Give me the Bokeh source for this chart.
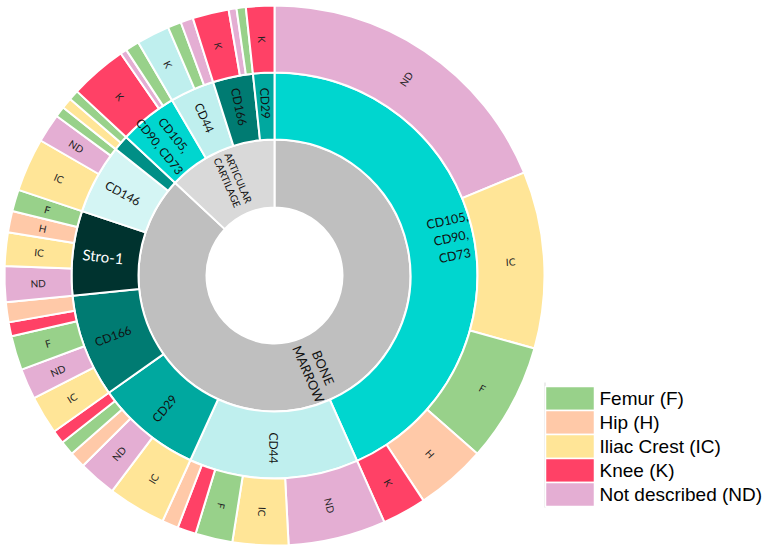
import math
import numpy as np
from bokeh.plotting import figure
from bokeh.models import Range1d
from bokeh.core.properties import value
from bokeh.embed import file_html
from bokeh.resources import INLINE

# ---------------- data (clockwise from 12 o'clock) ----------------
tissue_names = ["BONE MARROW", "ARTICULAR CARTILAGE"]
tissue_labels = ["BONE\nMARROW", "ARTICULAR\nCARTILAGE"]

marker_tissue = [0, 0, 0, 0, 0, 0, 0, 1, 1, 1, 1]
marker_names = ["CD105, CD90, CD73", "CD44", "CD29", "CD166", "Stro-1", "CD146", "",
                "CD105, CD90, CD73", "CD44", "CD166", "CD29"]
marker_labels = ["CD105,\nCD90,\nCD73", "CD44", "CD29", "CD166", "Stro-1", "CD146", "",
                 "CD105,\nCD90, CD73", "CD44", "CD166", "CD29"]

site_marker = [0, 0, 0, 0, 0,
               1, 1, 1, 1, 1,
               2, 2, 2, 2, 2,
               3, 3, 3, 3, 3,
               4, 4, 4, 4,
               5, 5, 5,
               6, 6,
               7, 7, 7,
               8, 8, 8,
               9, 9, 9,
               10]
site_code = ["ND", "IC", "F", "H", "K",
             "ND", "IC", "F", "K", "H",
             "IC", "ND", "H", "F", "K",
             "IC", "ND", "F", "K", "H",
             "ND", "IC", "H", "F",
             "IC", "ND", "F",
             "IC", "F",
             "K", "ND", "F",
             "K", "F", "ND",
             "K", "ND", "F",
             "K"]
# share of the full circle (degrees)
site_share = [67.6, 38.1, 25.6, 15.2, 9.5,
              21.0, 12.0, 8.0, 4.0, 3.5,
              12.5, 8.2, 3.5, 3.1, 2.9,
              8.3, 6.6, 7.4, 3.0, 4.3,
              7.7, 7.2, 4.6, 4.7,
              11.5, 6.2, 2.3,
              2.3, 2.2,
              12.3, 1.4, 3.0,
              7.1, 2.9, 2.7,
              7.8, 1.7, 2.0,
              6.1]

legend_codes = ["F", "H", "IC", "K", "ND"]
legend_names = ["Femur (F)", "Hip (H)", "Iliac Crest (IC)", "Knee (K)", "Not described (ND)"]

# ---------------- styles ----------------
site_colors = {"F": "#98D18A", "H": "#FFC9A8", "IC": "#FFE597", "K": "#FF4166", "ND": "#E4AED3"}
odd_site_color = {32: "#BFEFEE"}  # the knee slice drawn in light cyan in the original
marker_colors = {"CD105, CD90, CD73": "#00D6CF", "CD44": "#BFEFEE", "CD29": "#00A89F",
                 "CD166": "#007B72", "Stro-1": "#00332F", "CD146": "#D4F5F4", "": "#008F86"}
tissue_colors = ["#BFBFBF", "#D9D9D9"]

R0, R1, R2, R3 = 68, 136, 203, 270

share = np.array(site_share, dtype=float)
total = share.sum()
ends = np.cumsum(share) / total * 360.0
starts = ends - share / total * 360.0

n_markers = len(marker_names)
m_start = [min(starts[i] for i in range(len(share)) if site_marker[i] == m) for m in range(n_markers)]
m_end = [max(ends[i] for i in range(len(share)) if site_marker[i] == m) for m in range(n_markers)]
t_start = [min(m_start[m] for m in range(n_markers) if marker_tissue[m] == t) for t in range(2)]
t_end = [max(m_end[m] for m in range(n_markers) if marker_tissue[m] == t) for t in range(2)]


def to_rad(theta):
    return math.radians(90.0 - theta)


def text_angle(theta):
    a = 90.0 - theta
    a = (a + 180.0) % 360.0 - 180.0
    if a < -105:
        a += 180.0
    elif a > 90:
        a -= 180.0
    return math.radians(a)


def pos(theta, r):
    return r * math.sin(math.radians(theta)), r * math.cos(math.radians(theta))


p = figure(width=762, height=550, x_range=Range1d(-274, 488), y_range=Range1d(-275, 275),
           output_backend="svg", toolbar_location=None, min_border=0,
           x_axis_location=None, y_axis_location=None)
p.grid.visible = False
p.outline_line_color = None
p.background_fill_color = "white"

# inner ring
p.annular_wedge(x=0, y=0, inner_radius=R0, outer_radius=R1,
                start_angle=[to_rad(s) for s in t_start], end_angle=[to_rad(e) for e in t_end],
                direction="clock", fill_color=tissue_colors, line_color="white", line_width=2)

# middle ring
mcols = [marker_colors[n] for n in marker_names]
p.annular_wedge(x=0, y=0, inner_radius=R1, outer_radius=R2,
                start_angle=[to_rad(s) for s in m_start], end_angle=[to_rad(e) for e in m_end],
                direction="clock", fill_color=mcols, line_color="white", line_width=2)

# outer ring
scols = [odd_site_color.get(i, site_colors[c]) for i, c in enumerate(site_code)]
p.annular_wedge(x=0, y=0, inner_radius=R2, outer_radius=R3,
                start_angle=[to_rad(s) for s in starts], end_angle=[to_rad(e) for e in ends],
                direction="clock", fill_color=scols, line_color="white", line_width=2)

# inner labels
for t in range(2):
    mid = (t_start[t] + t_end[t]) / 2
    x, y = pos(mid, (R0 + R1) / 2 + 2)
    p.text(x=[x], y=[y], text=[tissue_labels[t]], angle=text_angle(mid),
           text_align="center", text_baseline="middle", text_font=value("Lato"),
           text_font_size="13px" if t == 0 else "10px", text_color="#111111",
           text_line_height=1.0)

# middle labels
for m in range(n_markers):
    if not marker_labels[m]:
        continue
    mid = (m_start[m] + m_end[m]) / 2
    r = (R1 + R2) / 2 + (11 if marker_labels[m].count("\n") == 2 else 3)
    x, y = pos(mid, r)
    size = "12px"
    if marker_names[m] == "Stro-1":
        size = "15px"
    elif m == 0:
        size = "12.5px"
    p.text(x=[x], y=[y], text=[marker_labels[m]], angle=text_angle(mid),
           text_align="center", text_baseline="middle", text_font=value("Lato"),
           text_font_size=size,
           text_color="white" if marker_names[m] == "Stro-1" else "#111111",
           text_line_height=1.2)

# outer labels
lx, ly, lt, la = [], [], [], []
for i in range(len(share)):
    span = ends[i] - starts[i]
    if span < 4.5:
        continue
    mid = (starts[i] + ends[i]) / 2
    x, y = pos(mid, (R2 + R3) / 2)
    lx.append(x); ly.append(y); lt.append(site_code[i]); la.append(text_angle(mid))
p.text(x=lx, y=ly, text=lt, angle=la, text_align="center", text_baseline="middle",
       text_font=value("Lato"), text_font_size="10px", text_color="#222222")

# legend
cx = 295.5
ys = [-123 - 24 * k for k in range(len(legend_codes))]
p.segment(x0=[270.5], y0=[ys[0] + 16], x1=[270.5], y1=[ys[-1] - 13], line_color="#D9D9D9", line_width=1)
p.rect(x=[cx] * len(ys), y=ys, width=49, height=24,
       fill_color=[site_colors[c] for c in legend_codes], line_color="white", line_width=1.5)
p.text(x=[325] * len(ys), y=ys, text=legend_names, text_align="left", text_baseline="middle",
       text_font=value("Liberation Sans"), text_font_size="19px", text_color="#000000")

open("out.html", "w").write(file_html(p, INLINE))
